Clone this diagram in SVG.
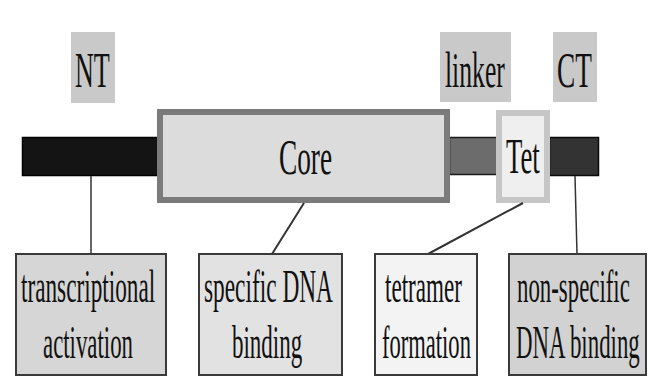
<svg xmlns="http://www.w3.org/2000/svg" width="651" height="382" viewBox="0 0 651 382">
<style>
.lbl{fill:#c9c9c9}
.t{font-family:"Liberation Serif","Times New Roman",serif;fill:#111;text-anchor:start}
.big{font-size:50px}
.sm{font-size:46px}
.box{stroke:#3a3a3a;stroke-width:2}
.conn{stroke:#333;fill:none}
</style>
<rect width="651" height="382" fill="#fff"/>
<g id="label-NT">
<rect class="lbl" x="71" y="32" width="44" height="71"/>
<text class="t big" transform="translate(75 87) scale(0.52 1)" textLength="67" lengthAdjust="spacingAndGlyphs">NT</text>
</g>
<g id="label-linker">
<rect class="lbl" x="440" y="32" width="71" height="70"/>
<text class="t big" transform="translate(445 87) scale(0.52 1)" textLength="115" lengthAdjust="spacingAndGlyphs">linker</text>
</g>
<g id="label-CT">
<rect class="lbl" x="553" y="32" width="44" height="70"/>
<text class="t big" transform="translate(557 87) scale(0.52 1)" textLength="67" lengthAdjust="spacingAndGlyphs">CT</text>
</g>
<g id="bar-NT">
<rect x="22.5" y="137.5" width="136" height="38" fill="#141414" stroke="#000" stroke-width="1.5"/>
</g>
<g id="bar-linker">
<rect x="449.5" y="137.5" width="48" height="37" fill="#6c6c6c" stroke="#1a1a1a" stroke-width="1.5"/>
</g>
<g id="bar-CT">
<rect x="549.5" y="137.5" width="49" height="38" fill="#333" stroke="#0a0a0a" stroke-width="1.5"/>
</g>
<g id="core">
<rect x="160" y="112" width="287" height="88" fill="#dcdcdc" stroke="#7b7b7b" stroke-width="6"/>
<text class="t big" transform="translate(279 174) scale(0.52 1)" textLength="102" lengthAdjust="spacingAndGlyphs">Core</text>
</g>
<g id="tet">
<rect x="499" y="113" width="48" height="87" fill="#efefef" stroke="#c6c6c6" stroke-width="6"/>
<text class="t big" transform="translate(506 173) scale(0.52 1)" textLength="65" lengthAdjust="spacingAndGlyphs">Tet</text>
</g>
<g id="connectors">
<line class="conn" x1="91" y1="176" x2="91" y2="254" stroke-width="1.5"/>
<line class="conn" x1="304" y1="203" x2="272" y2="254" stroke-width="2"/>
<line class="conn" x1="523" y1="203" x2="428" y2="254" stroke-width="2"/>
<line class="conn" x1="575" y1="176" x2="577" y2="254" stroke-width="1.5"/>
</g>
<g id="box-transcriptional">
<rect class="box" x="16" y="254" width="150" height="121" fill="#d6d6d6"/>
<text class="t sm" transform="translate(21 302) scale(0.52 1)" textLength="258" lengthAdjust="spacingAndGlyphs">transcriptional</text>
<text class="t sm" transform="translate(43 358) scale(0.52 1)" textLength="173" lengthAdjust="spacingAndGlyphs">activation</text>
</g>
<g id="box-specific">
<rect class="box" x="199" y="254" width="143" height="121" fill="#e2e2e2"/>
<text class="t sm" transform="translate(204 302) scale(0.52 1)" textLength="248" lengthAdjust="spacingAndGlyphs">specific DNA</text>
<text class="t sm" transform="translate(232 358) scale(0.52 1)" textLength="135" lengthAdjust="spacingAndGlyphs">binding</text>
</g>
<g id="box-tetramer">
<rect class="box" x="375" y="254" width="102" height="121" fill="#f3f3f3"/>
<text class="t sm" transform="translate(385 302) scale(0.52 1)" textLength="148" lengthAdjust="spacingAndGlyphs">tetramer</text>
<text class="t sm" transform="translate(382 358) scale(0.52 1)" textLength="171" lengthAdjust="spacingAndGlyphs">formation</text>
</g>
<g id="box-nonspecific">
<rect class="box" x="509" y="254" width="137" height="121" fill="#d2d2d2"/>
<text class="t sm" transform="translate(517 302) scale(0.52 1)" textLength="217" lengthAdjust="spacingAndGlyphs">non-specific</text>
<text class="t sm" transform="translate(516 358) scale(0.52 1)" textLength="238" lengthAdjust="spacingAndGlyphs">DNA binding</text>
</g>
</svg>
